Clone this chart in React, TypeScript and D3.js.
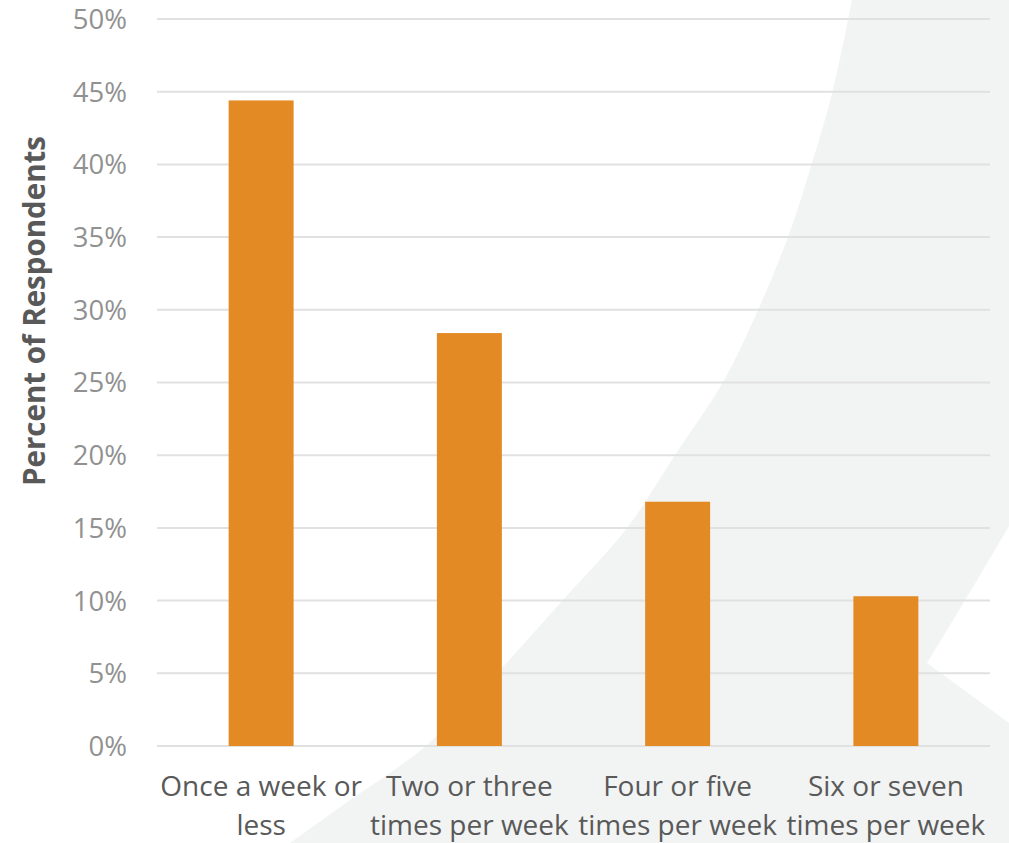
import * as d3 from "d3";

const categories = [
  ["Once a week or", "less"],
  ["Two or three", "times per week"],
  ["Four or five", "times per week"],
  ["Six or seven", "times per week"],
];
const percents = [44.4, 28.4, 16.8, 10.3];
const yTicks = [0, 5, 10, 15, 20, 25, 30, 35, 40, 45, 50];

// soft grey swoosh behind the plot
const swooshEdge: [number, number][] = [
  [852, 0], [833, 90], [812, 163], [788, 237], [758, 310], [723, 382],
  [675, 455], [627, 528], [563, 600], [497, 673], [427, 745], [343, 805], [290, 843],
];
const swooshCut: [number, number][] = [[1009, 526], [970, 592], [927, 663], [1009, 723]];

const W = 1009;
const H = 843;
const MARGIN = { top: 19, right: 19, bottom: 97, left: 157 };
const FONT = "'Open Sans', sans-serif";

export default function App() {
  const innerW = W - MARGIN.left - MARGIN.right;
  const labels = categories.map((c) => c.join(" "));

  const x = d3
    .scaleBand()
    .domain(labels)
    .range([MARGIN.left, W - MARGIN.right])
    .paddingInner(0.688)
    .paddingOuter(0.344);

  const y = d3
    .scaleLinear()
    .domain([0, 50])
    .range([H - MARGIN.bottom, MARGIN.top]);

  const edge = d3.line().curve(d3.curveCatmullRom)(swooshEdge) ?? "";
  const greyPath = `${edge}L${W},${H}L${W},0Z`;
  const cutPath = d3.line()(swooshCut) + "Z";

  return (
    <svg
      width={W}
      height={H}
      style={{ position: "absolute", left: 0, top: 0, display: "block", background: "#fff" }}
    >
      <path d={greyPath} fill="#f2f3f3" />
      <path d={cutPath} fill="#ffffff" />

      {/* gridlines */}
      {yTicks.map((t) => (
        <line
          key={t}
          x1={MARGIN.left}
          x2={MARGIN.left + innerW}
          y1={y(t)}
          y2={y(t)}
          stroke="#e1e1e1"
          strokeWidth={2}
        />
      ))}

      {/* y tick labels */}
      {yTicks.map((t) => (
        <text
          key={t}
          x={127}
          y={y(t)}
          dy="0.36em"
          textAnchor="end"
          fontFamily={FONT}
          fontSize={27.5}
          fill="#919191"
        >
          {t}%
        </text>
      ))}

      {/* bars */}
      {percents.map((v, i) => (
        <rect
          key={labels[i]}
          x={x(labels[i])}
          y={y(v)}
          width={x.bandwidth()}
          height={y(0) - y(v)}
          fill="#e48a25"
        />
      ))}

      {/* category labels */}
      {categories.map((lines, i) => (
        <text
          key={labels[i]}
          x={(x(labels[i]) ?? 0) + x.bandwidth() / 2}
          y={796}
          textAnchor="middle"
          fontFamily={FONT}
          fontSize={28}
          fill="#595959"
        >
          {lines.map((l, j) => (
            <tspan key={j} x={(x(labels[i]) ?? 0) + x.bandwidth() / 2} dy={j === 0 ? 0 : 39}>
              {l}
            </tspan>
          ))}
        </text>
      ))}

      {/* axis title */}
      <text
        transform="translate(45,311) rotate(-90)"
        textAnchor="middle"
        fontFamily={FONT}
        fontSize={29.5}
        fontWeight="bold"
        fill="#595959"
      >
        Percent of Respondents
      </text>
    </svg>
  );
}
